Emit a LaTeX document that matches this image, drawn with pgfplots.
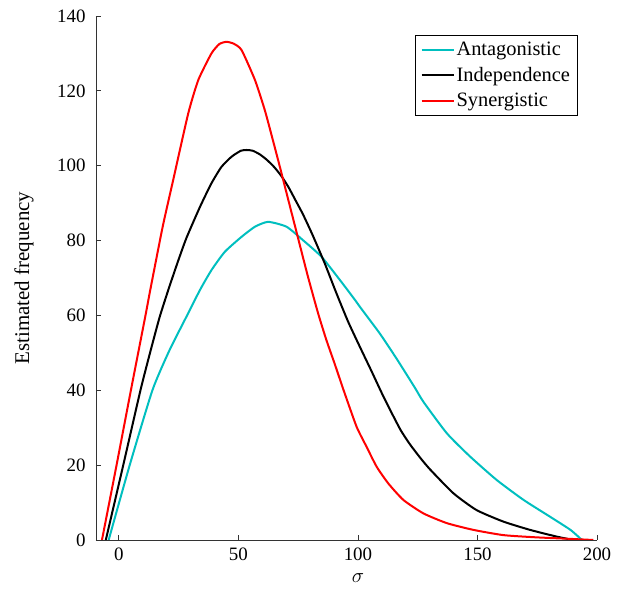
\documentclass[border=0pt]{standalone}
\usepackage{pgfplots}
\pgfplotsset{compat=1.18}
\usepackage{fontspec}
\setmainfont{Liberation Serif}
\definecolor{cyanc}{RGB}{0,191,191}
\begin{document}
\begin{tikzpicture}
\begin{axis}[
  scale only axis, width=501bp, height=524bp,
  xmin=-9.6, xmax=200, ymin=0, ymax=140,
  axis x line*=bottom, axis y line*=left,
  axis line style={line width=0.9bp, black!80},
  xtick={0,50,100,150,200}, ytick={0,20,...,140},
  tick align=inside, major tick length=5bp,
  tick style={line width=0.9bp, black!80},
  /pgf/number format/assume math mode=true,
  tick label style={font=\fontsize{19}{22}\selectfont},
  xticklabel style={yshift=-4bp},
  yticklabel style={xshift=-7bp},
  xlabel={$\sigma$},
  xlabel style={font=\fontsize{22}{24}\selectfont, at={(axis description cs:0.523,0)}, anchor=north, yshift=-30bp},
  ylabel={Estimated frequency},
  ylabel style={font=\fontsize{21}{24}\selectfont, at={(axis description cs:0,0.5)}, anchor=center, yshift=72bp},
  legend style={at={(axis description cs:0.9607,0.9637)}, anchor=north east,
     draw=black, line width=0.8bp, font=\fontsize{20.5}{22}\selectfont,
     inner xsep=5bp, inner ysep=5bp, row sep=6bp},
  legend cell align=left,
  legend image code/.code={\draw[#1, line width=2bp] (-2bp,0bp) -- (30bp,0bp);},
  every axis plot/.append style={line width=2bp, smooth, tension=0.35},
]
\addplot[cyanc] coordinates {
(-4.3,0) (4.5,20) (14,40) (21,50.5) (28.5,60) (33.9,66.8) (38.7,72.1) (44.3,77) (51.3,81) (56.9,83.7) (62.4,85) (70.1,83.7) (77,80.1) (84.7,75.7) (92.4,69.5) (98.8,64.1) (100.8,62.3) (109.1,55.2) (116.1,48.5) (123.7,40.8) (127.4,36.9) (137.2,28.5) (146.9,22.3) (158.1,16) (169.3,10.7) (180.4,6.2) (188.9,2.7) (193.7,0)
};
\addlegendentry{Antagonistic}
\addplot[black] coordinates {
(-5.5,0) (1.8,20) (9,40) (13,50) (17,59.5) (21,67.5) (25,75) (28.3,80.8) (33.9,89) (38.7,95.3) (42.9,99.7) (47.1,102.4) (51,104) (53.4,104.2) (56,104) (59,103) (62,101.5) (65,99.6) (68,97.2) (71,94.2) (74,90.6) (77,87) (81,81.5) (86.1,73.9) (91,65.9) (95.9,58.3) (100.8,51.6) (105.6,45.2) (110,39.2) (114.7,33.2) (118,29.2) (121.7,25.6) (126,22) (130.1,18.9) (139.9,12.5) (149.6,8) (160.9,4.9) (172,2.7) (183.2,0.9) (190,0)
};
\addlegendentry{Independence}
\addplot[red] coordinates {
(-7.1,0) (-1.0,20) (5.0,40) (11.1,60) (13.1,66.8) (18.3,83.7) (22.7,96.2) (29,114) (33.2,122.9) (38.7,130) (42,132.5) (45,133.1) (48,132.6) (51.3,130.9) (56.9,122.9) (61,114.9) (64,107.8) (67,100.5) (70,93) (73,85.5) (76,78) (79.1,70.3) (83.3,60.6) (86.8,53.4) (90.3,47) (94,40) (99.4,30.3) (103.6,24.9) (107.8,19.6) (112.7,15.1) (119,10.7) (127.4,7.1) (137.2,4.5) (148.3,2.7) (160.9,1.3) (174.9,0.7) (188.9,0.3) (198.5,0)
};
\addlegendentry{Synergistic}
\end{axis}
\pgfresetboundingbox
\useasboundingbox (current axis.south west) ++(-96bp,-54bp) rectangle ++(623bp,594bp);
\end{tikzpicture}
\end{document}
